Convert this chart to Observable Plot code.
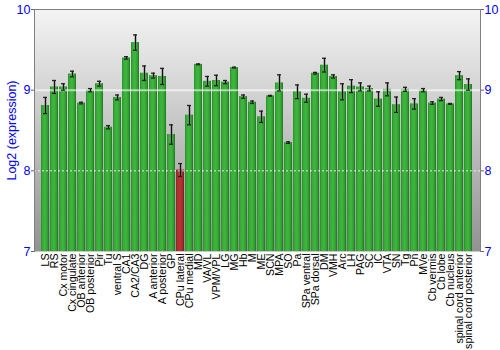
<!DOCTYPE html>
<html><head><meta charset="utf-8">
<script src="https://cdn.jsdelivr.net/npm/d3@7"></script>
<script src="https://cdn.jsdelivr.net/npm/@observablehq/plot@0.6"></script>
<style>body{margin:0;background:#fff}</style>
</head><body><div id="chart"></div>
<script>
const regions = ["LS","RS","Cx motor","Cx cingulate","OB anterior","OB posterior","Pir","Tu","ventral S","CA1","CA2/CA3","DG","A anterior","A posterior","GP","CPu lateral","CPu medial","MD","VA/VL","VPM/VPL","LG","MG","Hb","M","ME","SCN","MPA","SO","Pa","SPa ventral","SPa dorsal","DM","VMH","Arc","LH","PAG","SC","IC","VTA","SN","Tg","Pn","MVe","Cb vermis","Cb lobe","Cb nucleus","spinal cord anterior","spinal cord posterior"];
const values = [8.81,9.04,9.04,9.20,8.84,9.00,9.08,8.54,8.91,9.40,9.59,9.21,9.18,9.17,8.45,8.01,8.69,9.32,9.11,9.12,9.10,9.28,8.92,8.85,8.67,8.93,9.09,8.35,8.98,8.90,9.21,9.31,9.17,8.98,9.05,9.04,9.02,8.89,9.01,8.82,9.01,8.83,9.00,8.84,8.89,8.83,9.18,9.07];
const errors = [0.10,0.08,0.04,0.035,0.01,0.02,0.03,0.02,0.03,0.015,0.095,0.09,0.03,0.10,0.12,0.08,0.12,0.005,0.06,0.065,0.02,0.005,0.02,0.015,0.07,0.005,0.10,0.01,0.085,0.05,0.01,0.085,0.02,0.10,0.08,0.05,0.03,0.09,0.08,0.095,0.025,0.065,0.02,0.015,0.02,0.005,0.05,0.07];
const highlighted = ["CPu lateral"];
const yTicks = [7, 8, 9, 10];
const yDomain = [7, 10];
const yLabel = "Log2 (expression)";

const data = regions.map((r, i) => ({region: r, value: values[i], err: errors[i], hl: highlighted.includes(r)}));

const blue = "#0000ff";
const plot = Plot.plot({
  width: 500, height: 350,
  marginLeft: 34, marginRight: 20, marginTop: 9, marginBottom: 99,
  style: {fontFamily: "'Liberation Sans', Arial, sans-serif", background: "#fff"},
  x: {domain: regions, padding: 0.1},
  y: {domain: yDomain},
  marks: [
    Plot.frame({fill: "url(#bgGrad)", stroke: null}),
    Plot.barY(data.filter(d => !d.hl), {x: "region", y1: yDomain[0], y2: "value", fill: "url(#greenGrad)"}),
    Plot.barY(data.filter(d => d.hl), {x: "region", y1: yDomain[0], y2: "value", fill: "url(#redGrad)"}),
    Plot.ruleY([9], {stroke: "#ffffff", strokeOpacity: 0.6, strokeWidth: 2}),
    Plot.ruleY([8], {stroke: "#ffffff", strokeOpacity: 0.8, strokeWidth: 1, strokeDasharray: "2,2"}),
    Plot.ruleX(data, {x: "region", y1: d => d.value - d.err, y2: d => d.value + d.err, stroke: "#777", strokeWidth: 3, strokeOpacity: 0.45}),
    Plot.ruleX(data, {x: "region", y1: d => d.value - d.err, y2: d => d.value + d.err, stroke: "#111", strokeWidth: 1}),
    Plot.tickY(data, {x: "region", y: d => d.value - d.err, stroke: "#222", strokeWidth: 1.3, insetLeft: 2, insetRight: 2}),
    Plot.tickY(data, {x: "region", y: d => d.value + d.err, stroke: "#222", strokeWidth: 1.3, insetLeft: 2, insetRight: 2}),
    Plot.frame({anchor: "left", stroke: "#808080"}),
    Plot.frame({anchor: "right", stroke: "#808080"}),
    Plot.frame({anchor: "top", stroke: "#808080"}),
    Plot.axisY({anchor: "left", ticks: yTicks, tickFormat: d3.format("d"), tickSize: 3, tickPadding: 1, fontSize: 12.5, stroke: "#666", fill: blue,
      label: yLabel, labelAnchor: "center", labelArrow: "none", labelOffset: 27}),
    Plot.axisY({anchor: "right", ticks: yTicks, tickFormat: d3.format("d"), tickSize: 3, tickPadding: 1, fontSize: 12.5, stroke: "#666", fill: blue, label: null}),
    Plot.axisX({tickRotate: -90, tickSize: 0, tickPadding: 2, fontSize: 10.6, fill: "#000", label: null})
  ]
});

const svg = d3.select(plot);
svg.insert("defs", ":first-child").html(`
  <linearGradient id="bgGrad" x1="0" y1="0" x2="0" y2="1">
    <stop offset="0" stop-color="#f4f4f4"/>
    <stop offset="1" stop-color="#929292"/>
  </linearGradient>
  <linearGradient id="greenGrad" x1="0" y1="0" x2="1" y2="0">
    <stop offset="0" stop-color="#2a8a2a"/>
    <stop offset="0.15" stop-color="#37a837"/>
    <stop offset="0.5" stop-color="#3fb83f"/>
    <stop offset="0.85" stop-color="#2f9a2f"/>
    <stop offset="1" stop-color="#1f6e1f"/>
  </linearGradient>
  <linearGradient id="redGrad" x1="0" y1="0" x2="1" y2="0">
    <stop offset="0" stop-color="#8a2222"/>
    <stop offset="0.15" stop-color="#a82e2e"/>
    <stop offset="0.5" stop-color="#ba3434"/>
    <stop offset="0.85" stop-color="#9e2a2a"/>
    <stop offset="1" stop-color="#701a1a"/>
  </linearGradient>
`);
document.getElementById("chart").append(plot);
</script>
</body></html>
